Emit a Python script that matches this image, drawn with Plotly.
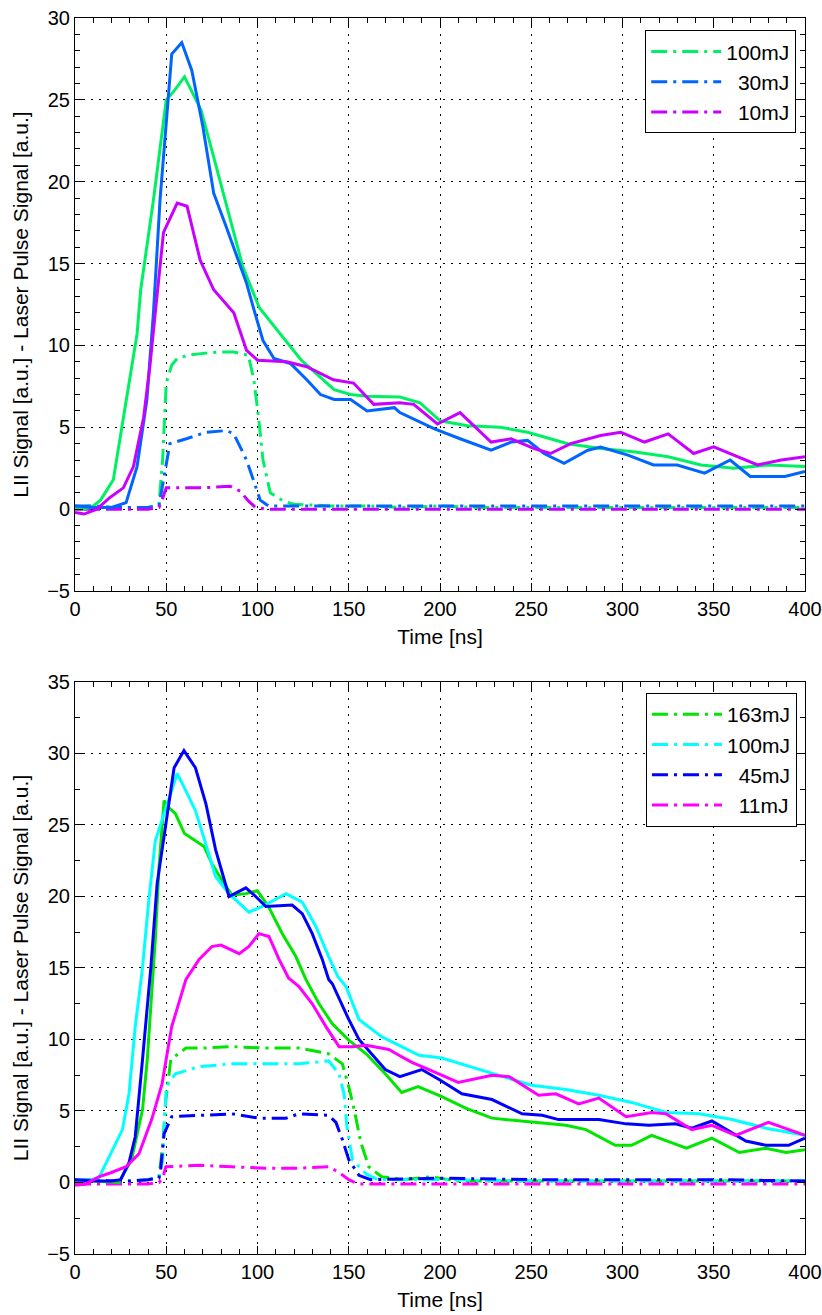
import plotly.graph_objects as go
from plotly.subplots import make_subplots

# ---------------- top panel data ----------------
top_lii_100_x = [0, 5, 10, 14, 21, 28, 34, 36, 43, 50, 54, 60, 69, 76, 83, 92, 101, 109, 124, 142, 151, 160, 178, 189, 200, 215, 233, 248, 270, 288, 306, 325, 343, 361, 380, 400]
top_lii_100_y = [0.1, 0.0, 0.2, 0.55, 1.8, 6.7, 10.7, 13.4, 18.9, 25.0, 25.5, 26.4, 24.4, 21.5, 18.5, 14.8, 12.3, 11.2, 9.1, 7.3, 7.0, 6.9, 6.85, 6.5, 5.4, 5.1, 5.0, 4.7, 4.0, 3.7, 3.5, 3.2, 2.7, 2.5, 2.7, 2.6]

top_lii_30_x = [0, 10, 20, 28, 34, 39.4, 43, 46.6, 50.3, 53, 58.5, 64, 70, 76, 83, 94, 98, 103, 109, 118, 127, 134.5, 142, 151, 160, 175, 178, 189, 197, 211, 228, 239, 248, 257, 268, 281, 288, 303, 317, 330, 345, 359, 370, 389, 400]
top_lii_30_y = [0.2, 0.1, 0.1, 0.4, 2.6, 6.7, 12.0, 18.9, 24.0, 27.8, 28.5, 26.8, 23.4, 19.3, 17.2, 13.8, 12.2, 10.3, 9.2, 8.9, 7.9, 7.0, 6.7, 6.7, 6.0, 6.2, 5.9, 5.3, 4.9, 4.3, 3.6, 4.1, 4.2, 3.4, 2.8, 3.6, 3.8, 3.3, 2.7, 2.7, 2.2, 3.0, 2.0, 2.0, 2.3]

top_lii_10_x = [0, 5, 12, 19, 26.5, 32, 37.6, 41, 44, 48.5, 56, 61.4, 68.6, 76, 87, 94, 100, 116, 127, 141.6, 152.6, 163.7, 178, 185.6, 198.6, 211, 228, 239, 251.6, 260.6, 271.6, 288, 299, 312, 325, 339, 350, 363, 374, 387, 400]
top_lii_10_y = [-0.2, -0.3, 0.0, 0.7, 1.3, 2.6, 5.6, 8.7, 12.0, 16.9, 18.7, 18.5, 15.2, 13.4, 12.0, 9.7, 9.1, 9.0, 8.7, 7.9, 7.7, 6.4, 6.5, 6.4, 5.2, 5.9, 4.1, 4.3, 3.7, 3.4, 4.0, 4.5, 4.7, 4.1, 4.6, 3.4, 3.8, 3.2, 2.7, 3.0, 3.2]

top_las_100_x = [0, 10, 20, 30, 40, 46, 48, 50, 53, 56, 62, 69, 80, 87, 95, 98, 100.6, 103, 107, 114, 120, 140, 160, 180, 200, 220, 250, 280, 300, 330, 360, 400]
top_las_100_y = [0.1, 0.2, 0.1, 0.1, 0.1, 0.3, 3.0, 7.7, 8.8, 9.2, 9.4, 9.5, 9.6, 9.6, 9.4, 7.9, 5.6, 3.0, 1.0, 0.5, 0.3, 0.2, 0.2, 0.1, 0.2, 0.1, 0.1, 0.1, 0.1, 0.1, 0.1, 0.1]

top_las_30_x = [0, 10, 20, 30, 40, 46, 48.4, 52, 61, 72, 83, 87, 90.5, 94, 98, 101.5, 106, 150, 200, 250, 300, 350, 400]
top_las_30_y = [0.2, 0.2, 0.1, 0.1, 0.1, 0.2, 1.8, 4.0, 4.3, 4.7, 4.8, 4.6, 3.8, 3.0, 1.7, 0.55, 0.2, 0.2, 0.2, 0.2, 0.2, 0.2, 0.2]

top_las_10_x = [0, 20, 40, 46, 47.5, 50, 60, 70, 85, 90.5, 95, 99, 105, 150, 200, 250, 300, 350, 400]
top_las_10_y = [0.0, 0.0, 0.0, 0.1, 0.5, 1.3, 1.3, 1.3, 1.4, 1.1, 0.5, 0.1, 0.0, 0.0, 0.0, 0.0, 0.0, 0.0, 0.0]

# ---------------- bottom panel data ----------------
bot_lii_163_x = [0, 10, 20, 24, 31, 37, 39.6, 42, 44, 46, 48, 48.8, 51.5, 55, 60, 66, 70.7, 75, 80.7, 86, 93.6, 99.9, 106, 113.6, 121, 126.5, 133.7, 141, 150, 159.5, 170, 179, 188, 201, 214, 228.5, 250.5, 269, 280, 296, 305, 316, 335, 349, 364, 378.6, 389.6, 400]
bot_lii_163_y = [0.2, 0.1, 0.0, 0.0, 1.6, 5.1, 8.6, 13.2, 17.0, 22.0, 25.1, 26.7, 26.2, 25.8, 24.4, 23.9, 23.5, 22.3, 21.1, 20.1, 20.2, 20.4, 19.3, 17.4, 15.8, 14.2, 12.5, 11.1, 9.96, 9.0, 7.6, 6.3, 6.7, 6.0, 5.2, 4.5, 4.2, 4.0, 3.7, 2.6, 2.6, 3.3, 2.4, 3.1, 2.1, 2.4, 2.1, 2.3]

bot_lii_100_x = [0, 8, 13, 18.6, 26, 29.6, 33, 36.8, 40.5, 44, 49.8, 56, 60.7, 66, 71.6, 77, 84.4, 90, 95.3, 102.6, 110, 115.6, 124.5, 132, 139, 144, 148.5, 155.6, 168, 177.5, 188.5, 201, 214, 232, 250, 269, 287, 305, 324, 342, 360, 378.6, 400]
bot_lii_100_y = [0.2, 0.2, 0.3, 1.8, 3.7, 6.2, 10.9, 14.8, 19.8, 23.9, 26.2, 28.6, 27.4, 26.0, 23.7, 21.4, 20.2, 19.5, 18.9, 19.3, 19.8, 20.2, 19.6, 17.9, 15.8, 14.4, 13.7, 11.4, 10.2, 9.6, 8.9, 8.7, 8.2, 7.5, 6.8, 6.5, 6.1, 5.6, 4.9, 4.8, 4.4, 3.8, 3.3]

bot_lii_45_x = [0, 10, 20, 25, 29.6, 33, 37, 40.5, 41.6, 45, 49.8, 54.3, 59.7, 66, 71.7, 77, 84.4, 93.6, 99, 104.6, 119, 124.5, 130, 135.5, 139, 141, 150, 155.6, 170, 178, 190, 199.5, 212, 228.5, 245, 256, 265, 287, 302, 314.5, 329, 338, 349, 367.6, 378.6, 391, 400]
bot_lii_45_y = [0.2, 0.1, 0.1, 0.2, 1.4, 3.2, 8.6, 13.2, 15.1, 20.9, 25.1, 29.0, 30.2, 29.0, 26.5, 23.3, 20.0, 20.6, 20.0, 19.3, 19.4, 18.8, 17.4, 15.6, 14.2, 13.9, 11.4, 10.0, 7.9, 7.4, 7.9, 7.2, 6.2, 5.8, 4.8, 4.7, 4.4, 4.4, 4.1, 4.0, 4.1, 3.8, 4.3, 2.9, 2.6, 2.6, 3.1]

bot_lii_11_x = [0, 6, 13, 20, 28, 35, 42, 47.7, 53, 60.8, 68, 75, 80, 90, 95.3, 100.8, 106.3, 111.8, 117, 122.7, 130, 137.5, 144.7, 152, 159.5, 172, 177.5, 184.6, 194, 210, 228.5, 238, 254, 263.5, 276, 287, 302, 316, 324, 338, 349, 362, 380, 400]
bot_lii_11_y = [-0.2, -0.1, 0.4, 0.7, 1.1, 2.0, 4.4, 6.9, 10.9, 14.2, 15.6, 16.5, 16.6, 16.0, 16.5, 17.4, 17.2, 15.6, 14.3, 13.7, 12.5, 10.9, 9.5, 9.5, 9.6, 9.3, 8.9, 8.4, 7.9, 7.0, 7.5, 7.4, 6.1, 6.2, 5.5, 5.9, 4.6, 4.9, 4.8, 3.7, 4.0, 3.3, 4.2, 3.3]

bot_las_163_x = [0, 10, 20, 30, 40, 46, 48, 49.8, 52.5, 60.8, 70, 86, 104.6, 122.7, 139, 146.5, 150, 153, 156.6, 161, 168, 180, 195, 210, 250, 300, 350, 400]
bot_las_163_y = [0.1, 0.1, 0.0, 0.1, 0.2, 0.4, 2.5, 5.8, 8.6, 9.4, 9.4, 9.5, 9.4, 9.4, 9.0, 8.3, 6.7, 5.1, 2.8, 1.1, 0.4, 0.2, 0.4, 0.1, 0.1, 0.1, 0.1, 0.1]

bot_las_100_x = [0, 10, 20, 30, 40, 46, 48, 50, 55, 68, 86, 104.6, 122.7, 139, 144.7, 147.4, 149, 152, 159.5, 166, 200, 250, 300, 350, 400]
bot_las_100_y = [0.2, 0.2, 0.1, 0.1, 0.2, 0.4, 1.5, 6.7, 7.6, 8.1, 8.3, 8.3, 8.3, 8.5, 7.6, 6.2, 3.9, 1.6, 0.6, 0.2, 0.2, 0.1, 0.1, 0.1, 0.1]

bot_las_45_x = [0, 10, 20, 30, 40, 46, 47, 48.8, 53, 68, 86, 100.8, 115.6, 122.7, 139, 143, 146.5, 150, 155.6, 162, 200, 250, 300, 350, 400]
bot_las_45_y = [0.2, 0.2, 0.1, 0.1, 0.2, 0.3, 1.0, 3.4, 4.6, 4.7, 4.8, 4.5, 4.5, 4.8, 4.7, 4.2, 3.0, 1.6, 0.5, 0.2, 0.3, 0.2, 0.2, 0.2, 0.1]

bot_las_11_x = [0, 20, 40, 46, 48, 49.8, 68, 86, 104.6, 122.7, 139, 144.7, 150, 155, 200, 250, 300, 350, 400]
bot_las_11_y = [-0.1, -0.1, -0.1, 0.0, 0.3, 1.1, 1.2, 1.1, 1.0, 1.0, 1.1, 0.7, 0.2, -0.1, -0.1, -0.1, -0.1, -0.1, -0.1]

NB = "\u00a0\u00a0"
top_labels = ["100mJ", NB + "30mJ", NB + "10mJ"]
bot_labels = ["163mJ", "100mJ", NB + "45mJ", NB + "11mJ"]
top_colors = ["#00F064", "#0064FF", "#C800FF"]
bot_colors = ["#00E600", "#00FFFF", "#0000FF", "#FF00FF"]

FONT = "Liberation Sans, Arial, sans-serif"
DASH = "16px,6px,3px,6px"
Y_TITLE = "LII Signal [a.u.] - Laser Pulse Signal [a.u.]"

fig = make_subplots(rows=2, cols=1, vertical_spacing=0.0)

top_lii = [(top_lii_100_x, top_lii_100_y), (top_lii_30_x, top_lii_30_y), (top_lii_10_x, top_lii_10_y)]
top_las = [(top_las_100_x, top_las_100_y), (top_las_30_x, top_las_30_y), (top_las_10_x, top_las_10_y)]
bot_lii = [(bot_lii_163_x, bot_lii_163_y), (bot_lii_100_x, bot_lii_100_y), (bot_lii_45_x, bot_lii_45_y), (bot_lii_11_x, bot_lii_11_y)]
bot_las = [(bot_las_163_x, bot_las_163_y), (bot_las_100_x, bot_las_100_y), (bot_las_45_x, bot_las_45_y), (bot_las_11_x, bot_las_11_y)]

for i, ((x, y), c, n) in enumerate(zip(top_las, top_colors, top_labels)):
    fig.add_trace(go.Scatter(x=x, y=y, mode="lines", name=n, legend="legend", legendgroup="t%d" % i,
                             line=dict(color=c, width=3, dash=DASH)), row=1, col=1)
for (x, y), c, n in zip(top_lii, top_colors, top_labels):
    fig.add_trace(go.Scatter(x=x, y=y, mode="lines", name=n.strip("\u00a0"), showlegend=False,
                             line=dict(color=c, width=3)), row=1, col=1)
for i, ((x, y), c, n) in enumerate(zip(bot_las, bot_colors, bot_labels)):
    fig.add_trace(go.Scatter(x=x, y=y, mode="lines", name=n, legend="legend2", legendgroup="b%d" % i,
                             line=dict(color=c, width=3, dash=DASH)), row=2, col=1)
for (x, y), c, n in zip(bot_lii, bot_colors, bot_labels):
    fig.add_trace(go.Scatter(x=x, y=y, mode="lines", name=n.strip("\u00a0"), showlegend=False,
                             line=dict(color=c, width=3)), row=2, col=1)

axis_common = dict(showline=True, linecolor="black", linewidth=1, mirror="ticks",
                   ticks="inside", ticklen=8, tickcolor="black", tickwidth=1,
                   showgrid=True, gridcolor="black", gridwidth=1, griddash="2px,6px",
                   zeroline=False, automargin=False,
                   tickfont=dict(family=FONT, size=20, color="black"),
                   title_font=dict(family=FONT, size=21, color="black"))

fig.update_xaxes(range=[0, 400], dtick=50, tick0=0,
                 minor=dict(ticks="inside", ticklen=5, dtick=10, tickcolor="black", showgrid=False),
                 title_text="Time [ns]", title_standoff=10, **axis_common)
fig.update_yaxes(row=1, col=1, range=[-5, 30], dtick=5, tick0=0,
                 minor=dict(ticks="inside", ticklen=5, dtick=1, tickcolor="black", showgrid=False),
                 title_text=Y_TITLE, title_standoff=12, **axis_common)
fig.update_yaxes(row=2, col=1, range=[-5, 35], dtick=5, tick0=0,
                 minor=dict(ticks="inside", ticklen=5, dtick=2.5, tickcolor="black", showgrid=False),
                 title_text=Y_TITLE, title_standoff=12, **axis_common)

legend_style = dict(xanchor="right", yanchor="top", bgcolor="white", bordercolor="black",
                    borderwidth=1, font=dict(family=FONT, size=21, color="black"),
                    tracegroupgap=0, itemwidth=70)

fig.update_layout(
    width=822, height=1315,
    margin=dict(l=75, r=17, t=18, b=61),
    paper_bgcolor="white", plot_bgcolor="white",
    font=dict(family=FONT, size=20, color="black"),
    xaxis=dict(domain=[0, 1]), xaxis2=dict(domain=[0, 1]),
    yaxis=dict(domain=[0.5364, 1.0]), yaxis2=dict(domain=[0.0, 0.4628]),
    legend=dict(x=0.988, y=0.990, **legend_style),
    legend2=dict(x=0.989, y=0.4539, **legend_style),
    showlegend=True,
)

fig.write_html("out.html", config={"displayModeBar": False},
               post_script="document.body.style.margin='0px';")
